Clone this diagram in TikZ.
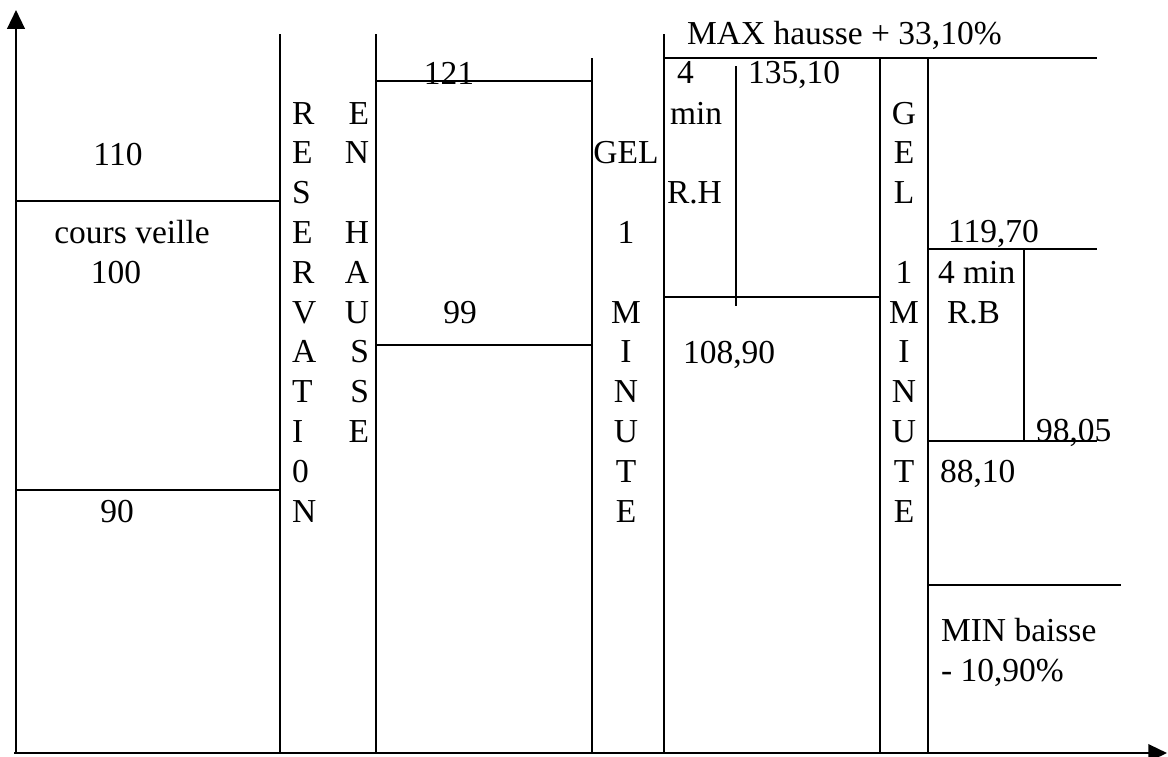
\documentclass[tikz,border=0pt]{standalone}
\usepackage{fontspec}
\setmainfont{Liberation Serif}
\usepackage{tikz}
\usetikzlibrary{arrows.meta}
\tikzset{
  txt/.style   = {inner sep=0pt, outer sep=0pt, anchor=base west,
                  font=\fontsize{13.4}{15.9}\selectfont},
  txtC/.style  = {txt, anchor=base},
  txtR/.style  = {txt, anchor=base east},
  grid/.style  = {line width=0.75pt},
  axis/.style  = {line width=0.85pt, -{Triangle[length=7.5pt,width=7pt]}},
}

\begin{document}
\begin{tikzpicture}[x=0.4pt, y=-0.4pt]
    \useasboundingbox (0,0) rectangle (1168,756);

    %% Axes
    \coordinate (origin) at (16,753);
    \draw[axis] (14,753) -- (1167,753);
    \draw[axis] (origin) -- (16,10);

    %% Column separators
    \draw[grid] (280,34) -- (280,753);
    \draw[grid] (376,34) -- (376,753);
    \draw[grid] (592,58) -- (592,753);
    \draw[grid] (664,34) -- (664,753);
    \draw[grid] (880,58) -- (880,753);
    \draw[grid] (928,58) -- (928,753);
    \draw[grid] (736,66) -- (736,306);
    \draw[grid] (1024,249) -- (1024,441);

    %% Price levels
    \draw[grid] (16,201)  -- (280,201);
    \draw[grid] (16,490)  -- (280,490);
    \draw[grid] (376,81)  -- (592,81);
    \draw[grid] (376,345) -- (592,345);
    \draw[grid] (664,58)  -- (1097,58);
    \draw[grid] (664,297) -- (880,297);
    \draw[grid] (928,249) -- (1097,249);
    \draw[grid] (928,441) -- (1097,441);
    \draw[grid] (928,585) -- (1121,585);

    %% First column: previous close
    \node[txtC] (p110)   at (118,165) {110};
    \node[txtC] (veille) at (132,243) {cours veille};
    \node[txtC] (p100)   at (116,283) {100};
    \node[txtC] (p90)    at (117,522) {90};

    %% Vertical words (row r has baseline 124 + 39.8*(r-1))
    \foreach \ch [count=\r] in {R,E,S,E,R,V,A,T,I,0,N}
      \node[txt] (resa\r) at (292,{84.2+39.8*\r}) {\ch};
    \foreach \ch/\r in {E/1,N/2,H/4,A/5,U/6,S/7,S/8,E/9}
      \node[txtR] (hausse\r) at (369,{84.2+39.8*\r}) {\ch};
    \foreach \ch/\r in {GEL/2,1/4,M/6,I/7,N/8,U/9,T/10,E/11}
      \node[txtC] (gelA\r) at (626,{84.2+39.8*\r}) {\ch};
    \foreach \ch/\r in {G/1,E/2,L/3,1/5,M/6,I/7,N/8,U/9,T/10,E/11}
      \node[txtC] (gelB\r) at (904,{84.2+39.8*\r}) {\ch};

    %% Reserved upward
    \node[txtC] (p121) at (449,84)  {121};
    \node[txtC] (p99)  at (460,323) {99};

    %% Upward reservation after the freeze
    \node[txt] (maxup)  at (687,44)  {MAX hausse + 33,10\%};
    \node[txt] (rh4)    at (677,83)  {4};
    \node[txt] (rhmin)  at (670,124) {min};
    \node[txt] (rhlbl)  at (667,203) {R.H};
    \node[txt] (p13510) at (748,83)  {135,10};
    \node[txt] (p10890) at (683,363) {108,90};

    %% Downward reservation
    \node[txt] (p11970) at (948,242) {119,70};
    \node[txt] (rbmin)  at (938,283) {4 min};
    \node[txt] (rblbl)  at (947,323) {R.B};
    \node[txt] (p9805)  at (1036,441) {98,05};
    \node[txt] (p8810)  at (940,482) {88,10};
    \node[txt] (mindn)  at (941,641) {MIN baisse};
    \node[txt] (mindnv) at (941,681) {- 10,90\%};

  \end{tikzpicture}
\end{document}
